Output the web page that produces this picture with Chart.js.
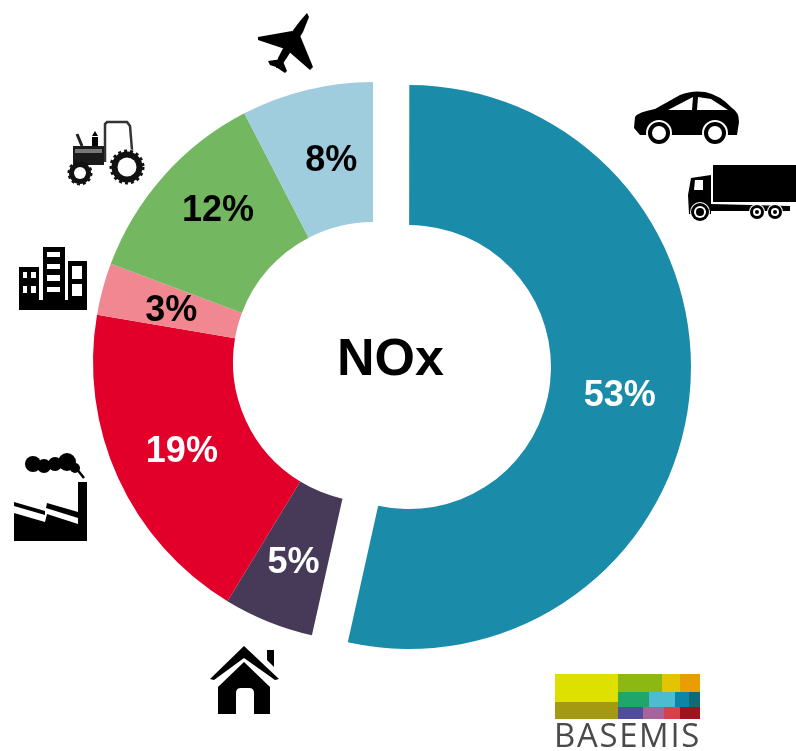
<!DOCTYPE html>
<html><head><meta charset="utf-8">
<style>html,body{margin:0;padding:0;background:#fff}#w{position:relative;width:796px;height:751px}</style>
<script src="https://cdn.jsdelivr.net/npm/chart.js@4"></script>
</head><body><div id="w"><canvas id="c" width="796" height="751"></canvas></div>
<script>
const categories = ['Transport routier','Résidentiel','Industrie','Tertiaire','Agriculture','Aérien'];
const values = [53.5, 5.2, 19, 3, 11.7, 7.6];
const sliceLabels = ['53%','5%','19%','3%','12%','8%'];
const colors = ['#1A8BA8','#463A58','#E2002B','#F08791','#74B761','#A0CDDE'];
const labelColors = ['#fff','#fff','#fff','#000','#000','#000'];
const labelNudge = [[0,6],[-1,6],[0,3],[1,4],[2,-12],[8,3]];
const explode = [34,4.8];
const centerTitle = 'NOx';
const logoText = 'BASEMIS';

function poly(ctx, pts, fill){ctx.fillStyle=fill||'#000';ctx.beginPath();pts.forEach((p,i)=>i?ctx.lineTo(p[0],p[1]):ctx.moveTo(p[0],p[1]));ctx.closePath();ctx.fill();}
function rect(ctx,x0,y0,x1,y1,fill){ctx.fillStyle=fill||'#000';ctx.fillRect(x0,y0,x1-x0,y1-y0);}
function disc(ctx,x,y,r,fill){ctx.fillStyle=fill||'#000';ctx.beginPath();ctx.arc(x,y,r,0,Math.PI*2);ctx.fill();}

function plane(ctx){
  poly(ctx,[[307,13],[309,17],[303,32],[288,56],[280,68],[276,68],[278,58],[291,33],[300,21]]);
  poly(ctx,[[258,37],[292,31],[294,38],[288,50],[258,40]]);
  poly(ctx,[[299,33],[313,67],[310,70],[287,50]]);
  poly(ctx,[[268,61],[282,59],[287,71],[285,73],[276,67],[270,65]]);
}
function car(ctx){
  ctx.fillStyle='#000';ctx.beginPath();
  ctx.moveTo(634,128);ctx.lineTo(635,117);ctx.quadraticCurveTo(638,112,655,109);
  ctx.lineTo(680,95);ctx.quadraticCurveTo(692,90,705,92);ctx.quadraticCurveTo(720,95,732,108);
  ctx.quadraticCurveTo(739,112,739,122);ctx.lineTo(737,135);ctx.lineTo(640,135);ctx.closePath();ctx.fill();
  poly(ctx,[[668,110],[693,97],[692,110]],'#fff');
  poly(ctx,[[698,97],[711,99],[728,110],[697,110]],'#fff');
  [[659,133],[715,133]].forEach(w=>{disc(ctx,w[0],w[1],13,'#fff');disc(ctx,w[0],w[1],11);disc(ctx,w[0],w[1],7,'#fff');});
}
function truck(ctx){
  rect(ctx,713,165,796,202);
  poly(ctx,[[689,214],[688,195],[691,178],[711,175],[711,204],[790,206],[790,211],[711,211],[711,214]]);
  poly(ctx,[[695,180],[703,180],[703,190],[694,190]],'#fff');
  [[700,212,9],[757,212,7],[775,212,7]].forEach(w=>{disc(ctx,w[0],w[1],w[2]+1,'#fff');disc(ctx,w[0],w[1],w[2]);disc(ctx,w[0],w[1],w[2]-3,'#fff');disc(ctx,w[0],w[1],w[2]-5);});
}
function tractor(ctx){
  ctx.strokeStyle='#333';ctx.lineWidth=2.5;ctx.beginPath();
  ctx.moveTo(105,162);ctx.lineTo(105,124);ctx.lineTo(107,122);ctx.lineTo(127,122);ctx.lineTo(130,126);ctx.lineTo(132,150);ctx.stroke();
  rect(ctx,73,146,104,165,'#1a1a1a');rect(ctx,75,149,102,153,'#777');
  rect(ctx,92,137,98,146);poly(ctx,[[95,131],[98,136],[92,136]]);
  ctx.strokeStyle='#222';ctx.lineWidth=3;ctx.beginPath();ctx.moveTo(77,134);ctx.lineTo(82,146);ctx.stroke();
  disc(ctx,127,167,18,'#fff');disc(ctx,127,167,15.5,'#111');
  ctx.strokeStyle='#111';ctx.lineWidth=3;ctx.setLineDash([3,3]);ctx.beginPath();ctx.arc(127,167,16,0,Math.PI*2);ctx.stroke();
  ctx.beginPath();ctx.arc(80,173,11.5,0,Math.PI*2);ctx.lineWidth=2;ctx.stroke();ctx.setLineDash([]);
  disc(ctx,127,167,9.5,'#fff');
  disc(ctx,80,173,11,'#111');disc(ctx,80,173,6,'#fff');
}
function buildings(ctx){
  rect(ctx,19,267,39,310);rect(ctx,43,247,65,310);rect(ctx,68,261,87,310);rect(ctx,19,300,87,310);
  [[23,272,27,278],[31,272,36,278],[23,286,27,293],[31,286,36,293]].forEach(r=>rect(ctx,r[0],r[1],r[2],r[3],'#fff'));
  [[47,252,60,257],[47,264,60,269],[47,275,60,281],[47,287,60,292]].forEach(r=>rect(ctx,r[0],r[1],r[2],r[3],'#fff'));
  rect(ctx,72,266,82,279,'#fff');rect(ctx,72,284,82,296,'#fff');
}
function factory(ctx){
  poly(ctx,[[14,541],[14,513],[45,522],[47,514],[78,524],[78,482],[87,482],[87,541]]);
  poly(ctx,[[14,502],[45,511],[45,515],[14,506]]);
  poly(ctx,[[47,503],[78,512],[78,518],[46,508]]);
  [[33,464,8],[44,466,7],[55,464,7],[67,462,9],[75,468,5]].forEach(c=>disc(ctx,c[0],c[1],c[2]));
  ctx.strokeStyle='#000';ctx.lineWidth=2.5;ctx.beginPath();ctx.moveTo(76,468);ctx.lineTo(84,478);ctx.stroke();
}
function house(ctx){
  poly(ctx,[[244,646],[279,679],[275,680],[244,658],[214,680],[210,679]]);
  poly(ctx,[[267,650],[274,650],[274,667],[267,660]]);
  poly(ctx,[[244,662],[270,687],[270,714],[218,714],[218,687]]);
  ctx.fillStyle='#fff';ctx.beginPath();ctx.moveTo(236,714);ctx.lineTo(236,693);ctx.quadraticCurveTo(236,688,241,688);ctx.lineTo(249,688);ctx.quadraticCurveTo(254,688,254,693);ctx.lineTo(254,714);ctx.closePath();ctx.fill();
}
function logo(ctx){
  [[555,674,618,702,'#DEE000'],[555,702,618,719,'#A39A12'],[618,674,662,692,'#8DB814'],[662,674,680,692,'#E3C400'],[680,674,700,692,'#EA9C00'],
   [618,692,649,707,'#1FA66B'],[649,692,675,707,'#4DBBD0'],[675,692,689,707,'#0E85A4'],[689,692,700,707,'#0E6A78'],
   [618,707,643,719,'#4F4D9C'],[643,707,664,719,'#A5649C'],[664,707,680,719,'#D9404A'],[680,707,700,719,'#A0121E']]
   .forEach(r=>rect(ctx,r[0],r[1],r[2],r[3],r[4]));
  ctx.save();ctx.fillStyle='#4A4A4A';ctx.font='500 33px "Open Sans"';ctx.textAlign='left';ctx.textBaseline='alphabetic';
  ctx.letterSpacing='1.7px';ctx.fillText(logoText,554,747,147);ctx.restore();
}
const decor={id:'decor',
  afterDatasetsUpdate(chart){
    const a=chart.getDatasetMeta(0).data[0];
    if(a&&!a._moved){const d=a.draw.bind(a);a._moved=true;a.draw=function(ctx,area){ctx.save();ctx.translate(explode[0],explode[1]);d(ctx,area);ctx.restore();};}
  },
  afterDraw(chart){
  const ctx=chart.ctx;ctx.save();
  const arcs=chart.getDatasetMeta(0).data;
  ctx.textAlign='center';ctx.textBaseline='middle';ctx.font='bold 36px "Liberation Sans"';
  arcs.forEach((a,i)=>{const p=a.tooltipPosition();const ex=i===0?explode:[0,0];ctx.fillStyle=labelColors[i];ctx.fillText(sliceLabels[i],p.x+ex[0]+labelNudge[i][0],p.y+ex[1]+labelNudge[i][1]);});
  ctx.fillStyle='#000';ctx.font='bold 52px "Liberation Sans"';ctx.fillText(centerTitle,390.5,361);
  [plane,car,truck,tractor,buildings,factory,house,logo].forEach(f=>f(ctx));
  ctx.restore();
}};
new Chart(document.getElementById('c'),{
  type:'doughnut',
  data:{labels:categories,datasets:[{data:values,backgroundColor:colors,borderWidth:0,offset:[8,0,0,0,0,0]}]},
  options:{responsive:false,animation:false,cutout:'50%',
    layout:{padding:{left:89,right:139,top:78,bottom:105}},
    plugins:{legend:{display:false},tooltip:{enabled:false}}},
  plugins:[decor]
});
</script></body></html>
